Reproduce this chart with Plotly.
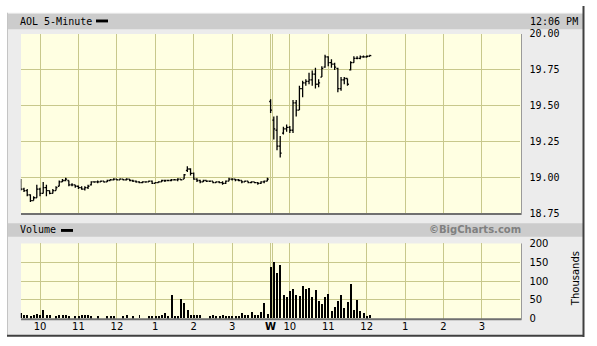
import plotly.graph_objects as go

W, H = 597, 346

# ---------------- data ----------------
day1_open = [18.97, 18.92, 18.91, 18.88, 18.84, 18.86, 18.92, 18.89, 18.93, 18.91,
             18.89, 18.91, 18.94, 18.97, 18.98, 18.98, 18.95, 18.95, 18.94, 18.93,
             18.92, 18.93, 18.95, 18.97, 18.97, 18.97, 18.975, 18.97, 18.98, 18.985,
             18.99, 18.985, 18.99, 18.985, 18.99, 18.98, 18.975, 18.97, 18.965, 18.97,
             18.97, 18.975, 18.96, 18.965, 18.97, 18.98, 18.98, 18.98, 18.985, 18.985,
             18.99, 18.99, 19.05, 19.06, 19.03, 18.99, 18.98, 18.97, 18.98, 18.975,
             18.975, 18.965, 18.97, 18.965, 18.96, 18.975, 18.99, 18.99, 18.985, 18.98,
             18.97, 18.975, 18.965, 18.97, 18.965, 18.96, 18.97, 18.975]
day1_high = [18.99, 18.93, 18.92, 18.885, 18.87, 18.95, 18.93, 18.97, 18.95, 18.91,
             18.92, 18.94, 18.98, 18.99, 19.00, 18.98, 18.96, 18.95, 18.945, 18.94,
             18.94, 18.95, 18.975, 18.975, 18.98, 18.98, 18.975, 18.985, 18.99, 18.995,
             18.99, 18.995, 18.99, 18.995, 18.99, 18.985, 18.98, 18.975, 18.975, 18.975,
             18.98, 18.98, 18.97, 18.975, 18.985, 18.985, 18.985, 18.99, 18.99, 18.995,
             18.99, 19.025, 19.08, 19.065, 19.035, 18.995, 18.985, 18.985, 18.98, 18.98,
             18.975, 18.975, 18.975, 18.975, 18.98, 19.00, 18.995, 18.99, 18.99, 18.98,
             18.98, 18.975, 18.975, 18.97, 18.97, 18.975, 18.98, 19.00]
day1_low = [18.91, 18.90, 18.87, 18.83, 18.84, 18.86, 18.87, 18.89, 18.87, 18.885,
            18.89, 18.91, 18.94, 18.97, 18.975, 18.94, 18.94, 18.93, 18.92, 18.915,
            18.91, 18.92, 18.945, 18.965, 18.96, 18.97, 18.965, 18.97, 18.98, 18.98,
            18.98, 18.985, 18.98, 18.98, 18.975, 18.97, 18.965, 18.96, 18.96, 18.965,
            18.97, 18.955, 18.96, 18.965, 18.97, 18.97, 18.975, 18.975, 18.98, 18.975,
            18.98, 18.99, 19.04, 19.015, 18.985, 18.97, 18.96, 18.97, 18.97, 18.97,
            18.96, 18.965, 18.96, 18.95, 18.955, 18.975, 18.98, 18.975, 18.975, 18.96,
            18.97, 18.96, 18.96, 18.96, 18.95, 18.955, 18.96, 18.975]
day1_close = [18.92, 18.91, 18.88, 18.84, 18.86, 18.92, 18.89, 18.93, 18.91, 18.89,
              18.91, 18.93, 18.97, 18.98, 18.99, 18.95, 18.95, 18.94, 18.93, 18.92,
              18.93, 18.94, 18.97, 18.97, 18.97, 18.975, 18.97, 18.98, 18.985, 18.99,
              18.985, 18.99, 18.985, 18.99, 18.98, 18.975, 18.97, 18.965, 18.97, 18.97,
              18.975, 18.96, 18.965, 18.97, 18.98, 18.98, 18.98, 18.985, 18.985, 18.99,
              18.985, 19.02, 19.06, 19.03, 18.99, 18.98, 18.97, 18.98, 18.975, 18.975,
              18.965, 18.97, 18.965, 18.96, 18.975, 18.99, 18.99, 18.985, 18.98, 18.97,
              18.975, 18.965, 18.97, 18.965, 18.96, 18.97, 18.975, 18.99]
day1_volume = [14, 8, 8, 5, 8, 12, 8, 22, 10, 8,
               0, 5, 8, 10, 8, 5, 0, 5, 5, 8,
               8, 10, 5, 0, 5, 0, 0, 5, 5, 5,
               0, 0, 5, 8, 0, 5, 0, 8, 0, 0,
               5, 5, 5, 5, 8, 14, 5, 62, 5, 5,
               51, 41, 23, 8, 8, 8, 8, 0, 0, 5,
               10, 5, 5, 8, 5, 5, 5, 5, 5, 14,
               10, 8, 17, 8, 10, 17, 40, 12]

day2_open = [19.53, 19.40, 19.33, 19.22, 19.31, 19.34, 19.35, 19.33, 19.52, 19.47,
             19.62, 19.66, 19.67, 19.68, 19.72, 19.65, 19.70, 19.77, 19.84, 19.80,
             19.79, 19.76, 19.62, 19.68, 19.69, 19.75, 19.80, 19.83, 19.83, 19.84,
             19.84, 19.845]
day2_high = [19.545, 19.425, 19.43, 19.29, 19.355, 19.37, 19.36, 19.54, 19.54, 19.64,
             19.675, 19.685, 19.73, 19.745, 19.765, 19.685, 19.775, 19.855, 19.845, 19.825,
             19.80, 19.765, 19.70, 19.70, 19.69, 19.81, 19.845, 19.845, 19.85, 19.85,
             19.85, 19.855]
day2_low = [19.45, 19.265, 19.19, 19.14, 19.30, 19.32, 19.31, 19.31, 19.425, 19.47,
            19.56, 19.64, 19.65, 19.64, 19.62, 19.63, 19.70, 19.765, 19.775, 19.765,
            19.75, 19.595, 19.605, 19.65, 19.64, 19.745, 19.80, 19.825, 19.825, 19.835,
            19.835, 19.845]
day2_close = [19.47, 19.34, 19.22, 19.17, 19.34, 19.35, 19.33, 19.52, 19.47, 19.62,
              19.66, 19.67, 19.68, 19.72, 19.65, 19.66, 19.76, 19.84, 19.80, 19.79,
              19.77, 19.62, 19.68, 19.69, 19.65, 19.80, 19.83, 19.83, 19.84, 19.84,
              19.845, 19.85]
day2_volume = [136, 149, 120, 141, 62, 56, 72, 79, 62, 59,
               87, 79, 80, 56, 74, 46, 38, 56, 64, 20,
               31, 46, 62, 28, 43, 90, 23, 49, 20, 13,
               5, 8]

tick_vals = [0.5, 1.5, 2.5, 3.5, 4.5, 5.5, 6.5, 6.55, 7, 8, 9, 10, 11, 12]
tick_text = ["10", "11", "12", "1", "2", "3", "<b>W</b>", "", "10", "11", "12", "1", "2", "3"]
price_ticks = [18.75, 19.00, 19.25, 19.50, 19.75, 20.00]
volume_ticks = [0, 50, 100, 150, 200]

SESSION_START = 9.5   # 9:30
SESSION_LEN = 6.5     # 9:30 - 16:00


def bar_times(n):
    return [(9 * 60 + 30 + 5 * k) for k in range(n)]  # minutes since midnight


def to_axis(day, minutes):
    return day * SESSION_LEN + (minutes / 60.0 - SESSION_START)


x1 = [to_axis(0, m) for m in bar_times(len(day1_close))]
x2 = [to_axis(1, m) for m in bar_times(len(day2_close))]
xs = x1 + x2
opens = day1_open + day2_open
highs = day1_high + day2_high
lows = day1_low + day2_low
closes = day1_close + day2_close
vols = day1_volume + day2_volume


def px(x):
    return x / W


def py(y):
    return 1 - y / H


fig = go.Figure()
fig.add_trace(go.Ohlc(
    x=xs, open=opens, high=highs, low=lows, close=closes,
    increasing=dict(line=dict(color="black", width=1.3)),
    decreasing=dict(line=dict(color="black", width=1.3)),
    tickwidth=0.45, xaxis="x", yaxis="y", showlegend=False, hoverinfo="skip"))
fig.add_trace(go.Bar(
    x=xs, y=vols, width=0.026, marker=dict(color="black", line=dict(width=0)),
    xaxis="x2", yaxis="y2", showlegend=False, hoverinfo="skip"))

GRID = "#c8c88c"
xdom = [px(20.8), px(520.4)]
fig.update_layout(
    width=W, height=H, autosize=False,
    margin=dict(l=0, r=0, t=0, b=0),
    paper_bgcolor="white", plot_bgcolor="rgba(0,0,0,0)",
    bargap=0,
    xaxis=dict(domain=xdom, range=[0, 13], tickvals=tick_vals, ticktext=tick_text,
               showticklabels=False, showgrid=True, gridcolor=GRID, gridwidth=1,
               zeroline=False, showline=False, ticks="", anchor="y",
               rangeslider=dict(visible=False), fixedrange=True),
    yaxis=dict(domain=[py(215), py(29)], range=[18.75, 20.00], tickvals=price_ticks,
               tickformat=".2f", side="right", showgrid=True, gridcolor=GRID,
               zeroline=False, showline=False, ticks="", ticklabelstandoff=8,
               tickfont=dict(family="DejaVu Sans Mono", size=10, color="black"),
               anchor="x"),
    xaxis2=dict(domain=xdom, range=[0, 13], tickvals=tick_vals, ticktext=tick_text,
                showticklabels=True, showgrid=True, gridcolor=GRID, gridwidth=1,
                zeroline=False, showline=False, ticks="", anchor="y2",
                tickfont=dict(family="DejaVu Sans", size=10, color="black"),
                tickangle=0),
    yaxis2=dict(domain=[py(324), py(246)], range=[0, 200], tickvals=volume_ticks,
                side="right", showgrid=True, gridcolor=GRID, zeroline=False,
                showline=False, ticks="", ticklabelstandoff=8,
                tickfont=dict(family="DejaVu Sans", size=10, color="black"),
                anchor="x2"),
)


def rect(x0, y0, x1_, y1_, color, layer="below"):
    return dict(type="rect", xref="paper", yref="paper", x0=px(x0), x1=px(x1_),
                y0=py(y1_), y1=py(y0), fillcolor=color, line=dict(width=0), layer=layer)


def line(x0, y0, x1_, y1_, color, w=1, layer="above"):
    return dict(type="line", xref="paper", yref="paper", x0=px(x0), x1=px(x1_),
                y0=py(y0), y1=py(y1_), line=dict(color=color, width=w), layer=layer)


shapes = [
    rect(7, 7, 584, 342, "#ececec"),
    rect(7, 8, 584, 24, "#cccccc"),
    rect(7, 225, 584, 239, "#cccccc"),
    rect(21, 29, 521, 215, "#ffffe2"),
    rect(21, 246, 521, 324, "#ffffe2"),
    rect(96, 14, 108, 17, "black", "above"),
    rect(61, 231, 73, 234, "black", "above"),
    line(7.5, 7, 7.5, 342, "#c4c4c4", 1),
    line(583.5, 0, 583.5, 343, "#404040", 2),
    line(7, 341.5, 584, 341.5, "#404040", 2),
    line(21, 215.5, 521.5, 215.5, "#707070", 2),
    line(521.5, 29, 521.5, 216, "#9a9a9a", 1),
    line(21, 324.5, 521.5, 324.5, "#707070", 2),
    line(521.5, 246, 521.5, 325, "#9a9a9a", 1),
]
fig.update_layout(shapes=shapes)

mono = dict(family="DejaVu Sans Mono", size=10, color="black")
annotations = [
    dict(text="AOL 5-Minute", x=px(19), y=py(16), xanchor="left", yanchor="middle",
         font=mono),
    dict(text="12:06 PM", x=px(579), y=py(16), xanchor="right", yanchor="middle",
         font=mono),
    dict(text="Volume", x=px(19), y=py(232), xanchor="left", yanchor="middle",
         font=mono),
    dict(text="<b>©BigCharts.com</b>", x=px(522), y=py(232), xanchor="right",
         yanchor="middle", font=dict(family="DejaVu Sans", size=10, color="#808080")),
    dict(text="Thousands", x=px(575), y=py(283), xanchor="center", yanchor="middle",
         textangle=-90, font=dict(family="DejaVu Sans", size=10, color="black")),
]
for a in annotations:
    a.update(xref="paper", yref="paper", showarrow=False, borderpad=0)
fig.update_layout(annotations=annotations)

fig.write_html("out.html")
